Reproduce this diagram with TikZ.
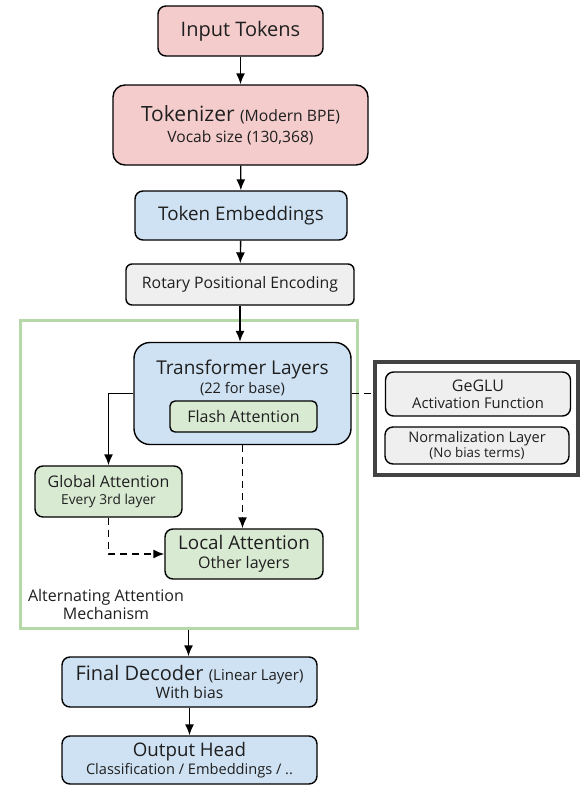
\documentclass[tikz,border=0pt]{standalone}
\usepackage{fontspec}
\setmainfont{Open Sans}
\usepackage{tikz}
\usetikzlibrary{arrows.meta,calc}
\definecolor{pinkfill}{HTML}{F4CCCC}
\definecolor{bluefill}{HTML}{CFE2F3}
\definecolor{greenfill}{HTML}{D9EAD3}
\definecolor{grayfill}{HTML}{EFEFEF}
\definecolor{framegreen}{HTML}{B6D7A8}
\definecolor{darkframe}{HTML}{434343}
\definecolor{inktext}{HTML}{1F1F1F}
\newcommand{\fz}[2]{\fontsize{#1}{#2}\selectfont}
\tikzstyle{blk}=[draw=black, line width=1.4pt, rounded corners=8pt,% boxes of the flow
align=center, text=inktext, inner sep=0pt]
\tikzstyle{flow}=[-{Latex[length=11pt,width=9pt]}, line width=1.4pt]
\tikzstyle{dflow}=[flow, dash pattern=on 7pt off 5pt]

\begin{document}
\begin{tikzpicture}[x=1pt,y=-1pt]
\useasboundingbox (0,0) rectangle (581,785);
\node[blk, fill=pinkfill, minimum width=165pt, minimum height=50pt] (input) at (240.5,31) {\fz{20}{24}Input Tokens};
\node[blk, fill=pinkfill, rounded corners=12pt, minimum width=255pt, minimum height=80pt, font=\fz{15.6}{21}] (tok) at (240.5,125) {\fz{21}{21}Tokenizer \fz{15.7}{21}(Modern BPE)\\\fz{15.6}{21}Vocab size (130,368)};
\node[blk, fill=bluefill, minimum width=212pt, minimum height=49pt] (emb) at (241,215.5) {\fz{18.8}{22}Token Embeddings};
\node[blk, fill=grayfill, rounded corners=6pt, minimum width=228pt, minimum height=41pt] (rope) at (240,284.5) {\fz{15.8}{18}Rotary Positional Encoding};
% alternating attention block
\node[draw=framegreen, line width=3pt, minimum width=337pt, minimum height=308pt, inner sep=0pt] (frame) at (188.5,474) {};
\node[blk, fill=bluefill, rounded corners=16pt, minimum width=217pt, minimum height=102pt] (tl) at (242.5,393.5) {};
\node[align=center, text=inktext, inner sep=0pt, font=\fz{15}{19}] (tltxt) at (242.5,378) {\fz{19}{19}Transformer Layers\\\fz{14.6}{19}(22 for base)};
\node[blk, fill=greenfill, rounded corners=5pt, minimum width=147pt, minimum height=31pt] (flash) at (243.5,416.5) {\fz{16}{18}Flash Attention};
\node[blk, fill=greenfill, minimum width=147pt, minimum height=51pt, font=\fz{13.7}{17}] (glob) at (108.5,491.5) {\fz{16}{17}Global Attention\\\fz{13.7}{17}Every 3rd layer};
\node[blk, fill=greenfill, minimum width=158pt, minimum height=50pt, font=\fz{16}{19}] (loc) at (244,554) {\fz{18.8}{19}Local Attention\\\fz{16}{19}Other layers};
\node[align=center, text=inktext, inner sep=0pt, font=\fz{16}{18}] (altlbl) at (106,604) {\fz{16}{18}Alternating Attention\\\fz{16}{18}Mechanism};
% side block
\node[draw=darkframe, line width=4.5pt, minimum width=203pt, minimum height=113pt, inner sep=0pt] (aux) at (476.5,418.5) {};
\node[blk, fill=grayfill, minimum width=185pt, minimum height=44pt, font=\fz{14.8}{17}] (geglu) at (478,394) {\fz{16}{17}GeGLU\\\fz{14.8}{17}Activation Function};
\node[blk, fill=grayfill, minimum width=184pt, minimum height=37pt, font=\fz{13.4}{15.5}] (norm) at (477,445.5) {\fz{14.6}{15.5}Normalization Layer\\\fz{13.4}{15.5}(No bias terms)};
% output
\node[blk, fill=bluefill, minimum width=255pt, minimum height=50pt, font=\fz{15.7}{18}] (dec) at (189.5,682) {\fz{20}{18}Final Decoder \fz{15}{18}(Linear Layer)\\\fz{15.7}{18}With bias};
\node[blk, fill=bluefill, minimum width=255pt, minimum height=48pt, font=\fz{14.6}{18}] (out) at (189.5,760) {\fz{18.7}{18}Output Head\\\fz{14.6}{18}Classification / Embeddings / ..};
\draw[flow] (input) -- (tok);
\draw[flow] (tok) -- (emb);
\draw[flow] (emb) -- (rope);
\draw[flow] (rope.south) -- (rope.south |- tl.north);
\draw[flow] (tl.west) -| (glob.north);
\draw[dflow] (tl.south) -- (tl.south |- loc.north);
\draw[dflow] (glob.south) |- (loc.west);
\draw[line width=1.4pt, dash pattern=on 7pt off 5pt] (tl.east) -- (aux.west |- tl.east);
\draw[flow] (frame.south) -- (frame.south |- dec.north);
\draw[flow] (dec) -- (out);
\end{tikzpicture}
\end{document}
